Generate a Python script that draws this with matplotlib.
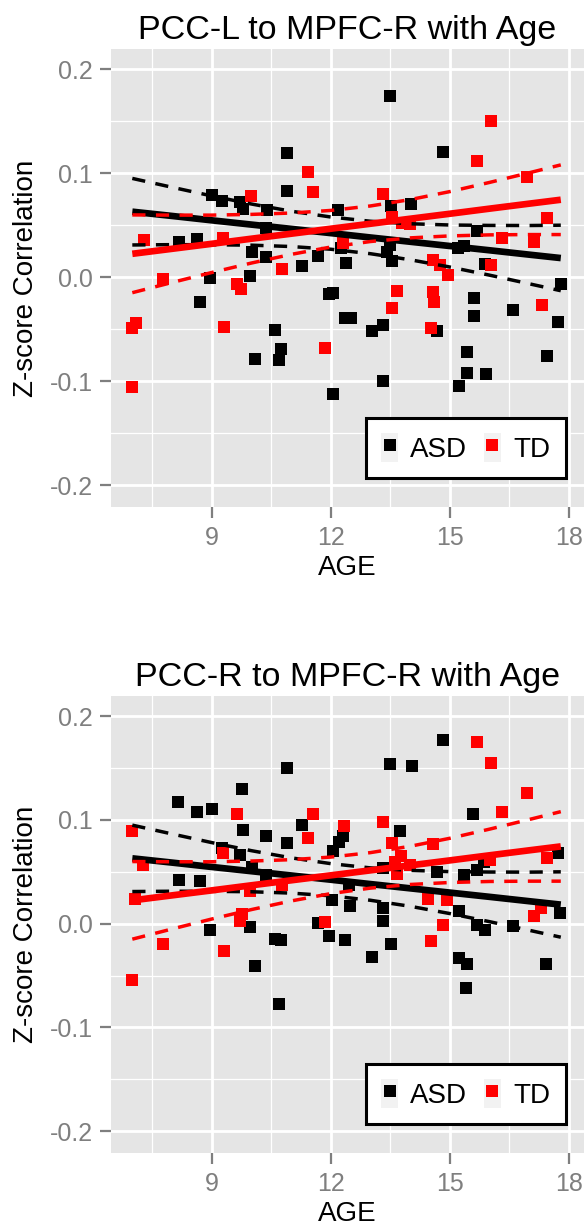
import matplotlib
matplotlib.use("Agg")
import matplotlib.pyplot as plt
from matplotlib.lines import Line2D
from matplotlib.patches import Patch
from matplotlib.legend_handler import HandlerTuple
from matplotlib.ticker import MultipleLocator

plt.rcParams["font.family"] = ["Liberation Sans", "DejaVu Sans"]

# panel 1: PCC-L to MPFC-R
p1_asd_age = [10.91, 10.89, 9.00, 9.25, 9.71, 9.78, 10.39, 12.19, 10.36, 8.18,
              8.62, 10.01, 10.36, 11.27, 11.69, 12.27, 12.38, 8.96, 9.97, 8.70,
              10.60, 10.74, 10.70, 10.09, 11.97, 12.05, 12.36, 12.50, 12.07, 13.03,
              13.33, 13.31, 14.67, 15.62, 15.60, 15.43, 15.44, 15.92, 15.24, 16.60,
              17.44, 17.72, 17.80, 13.49, 14.84, 13.52, 14.03, 15.68, 15.20, 15.35,
              13.49, 13.41, 13.54, 15.89]
p1_asd_z = [0.119, 0.083, 0.079, 0.073, 0.072, 0.066, 0.065, 0.065, 0.047, 0.034,
            0.037, 0.024, 0.019, 0.011, 0.020, 0.028, 0.014, -0.001, 0.001, -0.024,
            -0.051, -0.069, -0.080, -0.079, -0.016, -0.015, -0.039, -0.039, -0.112, -0.052,
            -0.046, -0.100, -0.052, -0.020, -0.037, -0.072, -0.092, -0.093, -0.105, -0.032,
            -0.076, -0.043, -0.007, 0.174, 0.120, 0.068, 0.070, 0.044, 0.028, 0.030,
            0.031, 0.024, 0.016, 0.013]
p1_td_age = [11.44, 11.56, 9.98, 7.30, 9.28, 10.77, 7.78, 9.63, 9.75, 7.09,
             6.98, 9.31, 11.86, 7.00, 13.66, 13.54, 14.57, 14.61, 14.54, 14.96,
             17.33, 16.04, 15.68, 16.94, 13.31, 17.44, 13.54, 13.79, 14.00, 16.33,
             17.12, 12.32, 14.57, 14.76, 16.03]
p1_td_z = [0.101, 0.082, 0.078, 0.036, 0.038, 0.008, -0.002, -0.007, -0.011, -0.044,
           -0.049, -0.048, -0.068, -0.106, -0.013, -0.030, -0.014, -0.024, -0.049, 0.002,
           -0.027, 0.150, 0.112, 0.096, 0.080, 0.057, 0.058, 0.052, 0.051, 0.038,
           0.034, 0.033, 0.017, 0.012, 0.012]

# panel 2: PCC-R to MPFC-R
p2_asd_age = [10.91, 9.76, 8.16, 8.62, 9.02, 9.78, 10.36, 10.89, 11.27, 9.27,
              9.71, 10.01, 10.36, 8.18, 8.70, 12.07, 12.20, 12.30, 12.04, 12.45,
              9.97, 8.95, 11.69, 14.84, 13.49, 14.04, 15.58, 13.75, 17.74, 14.67,
              15.35, 15.68, 15.87, 13.33, 12.49, 13.31, 13.31, 15.23, 15.68, 16.60,
              17.79, 10.09, 10.60, 10.74, 10.70, 11.96, 12.36, 13.03, 13.52, 15.24,
              15.43, 15.42, 15.90, 17.43]
p2_asd_z = [0.150, 0.130, 0.117, 0.108, 0.111, 0.090, 0.085, 0.078, 0.095, 0.073,
            0.066, 0.055, 0.047, 0.042, 0.041, 0.070, 0.079, 0.085, 0.023, 0.037,
            -0.003, -0.006, 0.001, 0.177, 0.154, 0.152, 0.106, 0.089, 0.068, 0.050,
            0.047, 0.052, 0.059, 0.054, 0.017, 0.015, 0.003, 0.012, -0.001, -0.002,
            0.010, -0.041, -0.015, -0.016, -0.077, -0.012, -0.016, -0.032, -0.020, -0.033,
            -0.039, -0.062, -0.006, -0.039]
p2_td_age = [7.00, 9.63, 11.56, 11.44, 9.28, 7.26, 7.08, 9.97, 10.77, 9.76,
             9.71, 11.86, 12.33, 15.68, 16.04, 16.94, 16.33, 13.31, 13.54, 14.57,
             13.78, 13.62, 14.00, 13.66, 16.01, 17.44, 14.46, 14.92, 14.84, 17.12,
             17.31, 7.78, 7.00, 9.31, 14.54]
p2_td_z = [0.089, 0.1055, 0.1055, 0.083, 0.068, 0.057, 0.024, 0.032, 0.037, 0.009,
           0.003, 0.002, 0.094, 0.175, 0.155, 0.126, 0.108, 0.098, 0.078, 0.077,
           0.065, 0.059, 0.057, 0.048, 0.061, 0.063, 0.024, 0.023, -0.001, 0.007,
           0.015, -0.020, -0.054, -0.026, -0.017]

# linear fits with confidence limits (same in both panels)
fit_age = [7.0, 8, 9, 10, 11, 12, 13, 14, 15, 16, 17, 17.8]
asd_fit = [0.063, 0.0589, 0.0547, 0.0506, 0.0465, 0.0424, 0.0382, 0.0341, 0.0300, 0.0259, 0.0217, 0.0184]
asd_hi = [0.095, 0.0865, 0.0782, 0.0704, 0.0635, 0.0579, 0.0538, 0.0514, 0.0502, 0.0498, 0.0497, 0.0500]
asd_lo = [0.031, 0.0313, 0.0312, 0.0308, 0.0295, 0.0269, 0.0226, 0.0168, 0.0098, 0.0020, -0.0063, -0.0130]
td_fit = [0.0225, 0.0273, 0.0321, 0.0370, 0.0418, 0.0466, 0.0514, 0.0562, 0.0610, 0.0659, 0.0707, 0.0745]
td_hi = [0.0599, 0.0597, 0.0597, 0.0604, 0.0617, 0.0642, 0.0685, 0.0746, 0.0823, 0.0911, 0.1004, 0.1080]
td_lo = [-0.0149, -0.0051, 0.0045, 0.0136, 0.0219, 0.0290, 0.0343, 0.0378, 0.0397, 0.0407, 0.0410, 0.0410]

x_ticks = [9, 12, 15, 18]
y_ticks = [-0.2, -0.1, 0.0, 0.1, 0.2]
y_tick_labels = ["-0.2", "-0.1", "0.0", "0.1", "0.2"]

GREY_BG = "#E5E5E5"
TICK_GREY = "#7F7F7F"


def draw_panel(ax, title, asd_age, asd_z, td_age, td_z):
    ax.set_facecolor(GREY_BG)
    for s in ax.spines.values():
        s.set_visible(False)
    ax.set_xlim(6.462, 18.385)
    ax.set_ylim(-0.221, 0.2195)
    ax.set_xticks(x_ticks)
    ax.set_xticklabels([str(t) for t in x_ticks])
    ax.set_yticks(y_ticks)
    ax.set_yticklabels(y_tick_labels)
    ax.xaxis.set_minor_locator(MultipleLocator(1.5))
    ax.yaxis.set_minor_locator(MultipleLocator(0.05))
    ax.grid(which="major", color="white", lw=2.0)
    ax.grid(which="minor", color="white", lw=0.9)
    ax.set_axisbelow(True)
    ax.tick_params(which="major", length=8, width=1.6, color=TICK_GREY,
                   labelcolor=TICK_GREY, labelsize=18)
    ax.tick_params(axis="x", pad=6)
    ax.tick_params(axis="y", pad=5)
    ax.tick_params(which="minor", length=0)

    ax.plot(asd_age, asd_z, ls="none", marker="s", ms=8.6, mew=0, color="black")
    ax.plot(td_age, td_z, ls="none", marker="s", ms=8.6, mew=0, color="red")

    dash = (0, (3.8, 3.0))
    ax.plot(fit_age, asd_fit, color="black", lw=4.8, solid_capstyle="butt")
    ax.plot(fit_age, asd_hi, color="black", lw=2.5, ls=dash)
    ax.plot(fit_age, asd_lo, color="black", lw=2.5, ls=dash)
    ax.plot(fit_age, td_fit, color="red", lw=4.8, solid_capstyle="butt")
    ax.plot(fit_age, td_hi, color="red", lw=2.5, ls=dash)
    ax.plot(fit_age, td_lo, color="red", lw=2.5, ls=dash)

    ax.set_title(title, fontsize=24.5, pad=7)
    ax.set_xlabel("AGE", fontsize=20, va="center")
    ax.xaxis.set_label_coords(0.5, -0.133)
    ax.set_ylabel("Z-score Correlation", fontsize=20, va="center")
    ax.yaxis.set_label_coords(-0.18, 0.5)

    key = Patch(facecolor="#F2F2F2", edgecolor="none")
    h_asd = (key, Line2D([], [], ls="none", marker="s", ms=8.6, mew=0, color="black"))
    h_td = (key, Line2D([], [], ls="none", marker="s", ms=8.6, mew=0, color="red"))
    leg = ax.legend([h_asd, h_td], ["ASD", "TD"], handler_map={tuple: HandlerTuple(ndivide=1)},
                    loc="center", bbox_to_anchor=(0.75, 0.129), ncol=2, fontsize=20,
                    frameon=True, fancybox=False, edgecolor="black", framealpha=1,
                    borderpad=0.55, handlelength=0.6, handleheight=1.25,
                    handletextpad=0.45, columnspacing=0.6, borderaxespad=0)
    leg.get_frame().set_linewidth(2.2)


fig = plt.figure(figsize=(5.84, 12.27), dpi=100)
ax1 = fig.add_axes([0.190, 0.5868, 0.810, 0.3733])
ax2 = fig.add_axes([0.190, 0.0603, 0.810, 0.3725])
draw_panel(ax1, "PCC-L to MPFC-R with Age", p1_asd_age, p1_asd_z, p1_td_age, p1_td_z)
draw_panel(ax2, "PCC-R to MPFC-R with Age", p2_asd_age, p2_asd_z, p2_td_age, p2_td_z)

fig.savefig("out.png", dpi=100)
